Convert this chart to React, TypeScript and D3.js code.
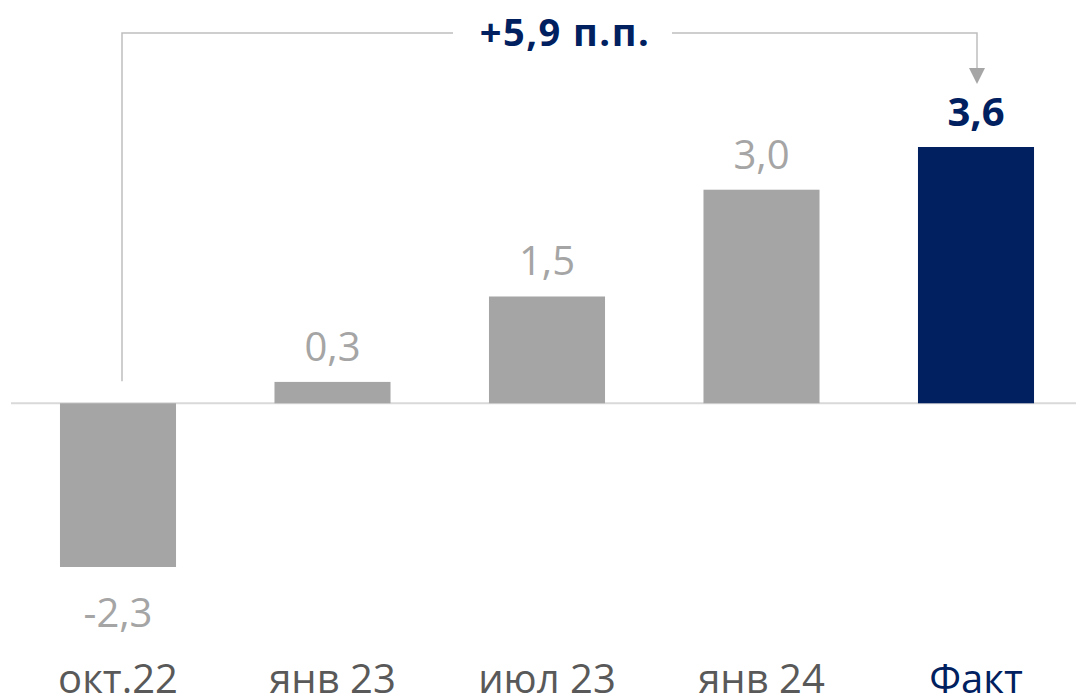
import React from "react";
import * as d3 from "d3";

const categories = ["окт.22", "янв 23", "июл 23", "янв 24", "Факт"];
const values = [-2.3, 0.3, 1.5, 3.0, 3.6];
const valueLabels = ["-2,3", "0,3", "1,5", "3,0", "3,6"];
const highlight = [false, false, false, false, true];
const deltaLabel = "+5,9 п.п.";

const W = 1076;
const H = 699;
const NAVY = "#002060";
const GRAY = "#a5a5a5";
const FONT = "'Open Sans', 'Noto Sans', sans-serif";

export default function App() {
  const x = d3
    .scaleBand<string>()
    .domain(categories)
    .range([10.75, 10.75 + 214.5 * categories.length])
    .paddingInner(0.459)
    .paddingOuter(0.2295);
  const y = d3.scaleLinear().domain([-2.3, 3.6]).range([567, 147]);
  const y0 = y(0);
  const cx = (c: string) => (x(c) as number) + x.bandwidth() / 2;

  const first = categories[0];
  const last = categories[categories.length - 1];
  const leftX = cx(first) + 4;
  const rightX = cx(last) + 1;
  const bracketY = 33;
  const textX = 565;

  return (
    <svg
      width={W}
      height={H}
      style={{ position: "absolute", left: 0, top: 0, background: "#fff" }}
      fontFamily={FONT}
    >
      <line x1={11} x2={W} y1={y0} y2={y0} stroke="#d9d9d9" strokeWidth={2} />

      {categories.map((c, i) => {
        const v = values[i];
        const top = Math.min(y(v), y0);
        const h = Math.abs(y(v) - y0);
        return (
          <rect
            key={c}
            x={x(c)}
            y={top}
            width={x.bandwidth()}
            height={h}
            fill={highlight[i] ? NAVY : GRAY}
          />
        );
      })}

      {categories.map((c, i) => {
        const v = values[i];
        const yy = v >= 0 ? y(v) - 21 : y(v) + 60;
        return (
          <text
            key={c + "v"}
            x={cx(c)}
            y={yy}
            textAnchor="middle"
            fontSize={40}
            fontWeight={highlight[i] ? 700 : 400}
            fill={highlight[i] ? NAVY : GRAY}
          >
            {valueLabels[i]}
          </text>
        );
      })}

      {categories.map((c, i) => (
        <text
          key={c + "c"}
          x={cx(c)}
          y={693}
          textAnchor="middle"
          fontSize={40}
          fill={highlight[i] ? NAVY : "#595959"}
        >
          {c}
        </text>
      ))}

      <polyline
        points={`${leftX},${y0 - 22} ${leftX},${bracketY} ${textX - 112},${bracketY}`}
        fill="none"
        stroke="#bfbfbf"
        strokeWidth={1.5}
      />
      <polyline
        points={`${textX + 107},${bracketY} ${rightX},${bracketY} ${rightX},${69}`}
        fill="none"
        stroke="#bfbfbf"
        strokeWidth={1.5}
      />
      <path
        d={`M${rightX - 8},${68} L${rightX + 8},${68} L${rightX},${84} Z`}
        fill="#a6a6a6"
      />
      <text
        x={textX}
        y={46}
        textAnchor="middle"
        fontSize={38}
        fontWeight={700}
        letterSpacing={1.5}
        fill={NAVY}
      >
        {deltaLabel}
      </text>
    </svg>
  );
}
